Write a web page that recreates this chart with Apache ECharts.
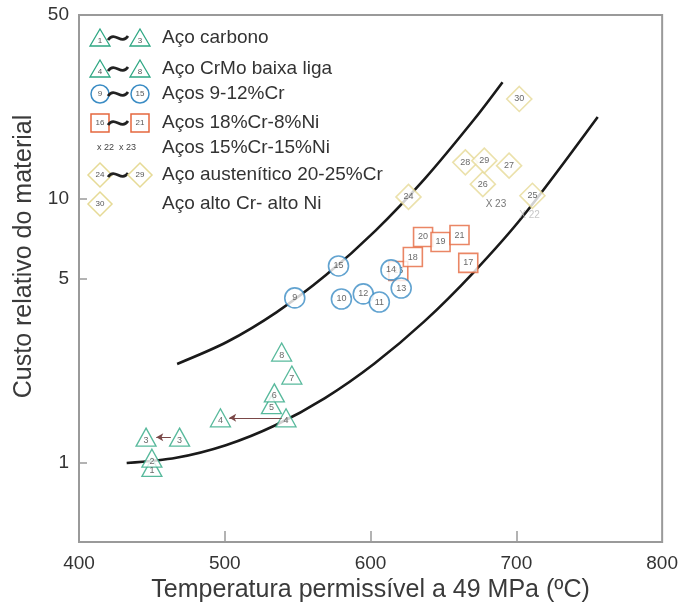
<!DOCTYPE html>
<html>
<head>
<meta charset="utf-8">
<script src="https://cdn.jsdelivr.net/npm/echarts@6/dist/echarts.min.js"></script>
<style>
  html, body { margin: 0; padding: 0; background: #fff; }
  #chartContainer { width: 681px; height: 613px; }
</style>
</head>
<body>
<div id="chartContainer"></div>
<script>
'use strict';

// carbon / CrMo low alloy steels (triangles)
const triLabels = ['1', '2', '3', '3', '4', '4', '5', '6', '7', '8'];
const triTemp = [450, 450, 446, 469, 497, 542, 532, 534, 546, 539];
const triCost = [0.96, 1.04, 1.25, 1.25, 1.48, 1.48, 1.66, 1.84, 2.15, 2.63];

// 9-12%Cr steels (circles)
const circLabels = ['9', '15', '10', '12', '11', '14', '13'];
const circTemp = [548, 578, 580, 595, 606, 614, 621];
const circCost = [4.22, 5.58, 4.18, 4.37, 4.07, 5.39, 4.60];

// 18%Cr-8%Ni steels (squares)
const sqLabels = ['16', '18', '20', '19', '21', '17'];
const sqTemp = [619, 629, 636, 648, 661, 667];
const sqCost = [5.34, 6.03, 7.19, 6.88, 7.31, 5.73];

// 15%Cr-15%Ni steels (crosses)
const crossLabels = ['X 23', 'X 22'];
const crossTemp = [686, 709];
const crossCost = [9.6, 8.7];

// austenitic / high Cr high Ni (diamonds)
const diaLabels = ['24', '25', '26', '27', '28', '29', '30'];
const diaTemp = [626, 711, 677, 695, 665, 678, 702];
const diaCost = [10.2, 10.3, 11.4, 13.4, 13.8, 14.0, 24.0];

// arrows (material 3 and 4 shifted)
const arrowFrom = [[463, 1.25], [539, 1.48]];
const arrowTo = [[453, 1.25], [503, 1.48]];

// band curves
const upperTemp = [467.3, 501.4, 535.4, 569.4, 603.4, 637.4, 671.4, 690.5];
const upperCost = [2.37, 2.87, 3.72, 5.15, 7.60, 12.0, 20.2, 27.8];
const lowerTemp = [432.7, 466.7, 500.7, 534.7, 568.7, 602.7, 636.7, 670.7, 704.8, 755.8];
const lowerCost = [0.997, 1.044, 1.165, 1.387, 1.759, 2.38, 3.43, 5.28, 8.65, 20.5];

// axes
const xTicks = [400, 500, 600, 700, 800];
const yTicks = [1, 5, 10, 50];

const legendTexts = [
    'Aço carbono',
    'Aço CrMo baixa liga',
    'Aços 9-12%Cr',
    'Aços 18%Cr-8%Ni',
    'Aços 15%Cr-15%Ni',
    'Aço austenítico 20-25%Cr',
    'Aço alto Cr- alto Ni'
];

const GREEN = '#2ea783';
const BLUE = '#3b8cc4';
const ORANGE = '#e5683f';
const YELLOW = '#e6da96';
const FONT = 'Liberation Sans, Arial, sans-serif';

let initChart = (function() {
    let chartContainer = document.getElementById('chartContainer');
    let chart = echarts.init(chartContainer);

    function zip(xs, ys) {
        return xs.map((x, i) => [x, ys[i]]);
    }

    function markLabel(labels, offset) {
        return {
            show: true,
            position: 'inside',
            offset: offset || [0, 0],
            formatter: p => labels[p.dataIndex],
            fontSize: 9,
            fontFamily: FONT,
            color: '#444'
        };
    }

    // ---- hand drawn legend ----
    let rowsY = [38, 69, 94, 123, 148, 175, 204];
    let lx1 = 100, lx2 = 140, tx = 118;

    function triangle(x, y, t) {
        return {
            type: 'group', x: x, y: y, children: [
                { type: 'polygon', shape: { points: [[0, -9], [10, 8], [-10, 8]] },
                  style: { fill: '#fff', stroke: GREEN, lineWidth: 1.3 } },
                { type: 'text', style: { text: t, x: 0, y: 3, align: 'center', verticalAlign: 'middle',
                  font: '8px ' + FONT, fill: '#555' } }
            ]
        };
    }
    function circle(x, y, t) {
        return {
            type: 'group', x: x, y: y, children: [
                { type: 'circle', shape: { cx: 0, cy: 0, r: 9 },
                  style: { fill: '#fff', stroke: BLUE, lineWidth: 1.5 } },
                { type: 'text', style: { text: t, x: 0, y: 0, align: 'center', verticalAlign: 'middle',
                  font: '8px ' + FONT, fill: '#555' } }
            ]
        };
    }
    function square(x, y, t) {
        return {
            type: 'group', x: x, y: y, children: [
                { type: 'rect', shape: { x: -9, y: -9, width: 18, height: 18 },
                  style: { fill: '#fff', stroke: ORANGE, lineWidth: 1.5 } },
                { type: 'text', style: { text: t, x: 0, y: 0, align: 'center', verticalAlign: 'middle',
                  font: '8px ' + FONT, fill: '#555' } }
            ]
        };
    }
    function diamond(x, y, t) {
        return {
            type: 'group', x: x, y: y, children: [
                { type: 'polygon', shape: { points: [[0, -12], [12, 0], [0, 12], [-12, 0]] },
                  style: { fill: '#fff', stroke: YELLOW, lineWidth: 1.5 } },
                { type: 'text', style: { text: t, x: 0, y: 0, align: 'center', verticalAlign: 'middle',
                  font: '8px ' + FONT, fill: '#555' } }
            ]
        };
    }
    function tilde(y) {
        return {
            type: 'bezierCurve',
            shape: { x1: tx - 10, y1: y + 2, cpx1: tx - 3, cpy1: y - 8, cpx2: tx + 3, cpy2: y + 8, x2: tx + 10, y2: y - 2 },
            style: { stroke: '#222', lineWidth: 2.8, fill: null }
        };
    }

    let legendEls = [
        triangle(lx1, rowsY[0], '1'), tilde(rowsY[0]), triangle(lx2, rowsY[0], '3'),
        triangle(lx1, rowsY[1], '4'), tilde(rowsY[1]), triangle(lx2, rowsY[1], '8'),
        circle(lx1, rowsY[2], '9'), tilde(rowsY[2]), circle(lx2, rowsY[2], '15'),
        square(lx1, rowsY[3], '16'), tilde(rowsY[3]), square(lx2, rowsY[3], '21'),
        { type: 'text', x: 97, y: rowsY[4], style: { text: 'x 22  x 23', font: '9px ' + FONT,
          fill: '#444', verticalAlign: 'middle' } },
        diamond(lx1, rowsY[5], '24'), tilde(rowsY[5]), diamond(lx2, rowsY[5], '29'),
        diamond(lx1, rowsY[6], '30')
    ];
    legendTexts.forEach((t, i) => {
        legendEls.push({
            type: 'text', x: 162, y: rowsY[i],
            style: { text: t, font: '19px ' + FONT, fill: '#333', verticalAlign: 'middle' }
        });
    });

    let crossData = zip(crossTemp, crossCost).map((d, i) =>
        i === 1 ? { value: d, label: { color: '#b8b8b8' } } : d);

    let option = {
        backgroundColor: '#fff',
        animation: false,
        grid: {
            left: 79,
            right: 14,
            top: 15,
            bottom: 71,
            show: true,
            borderColor: '#9a9a9a',
            borderWidth: 2
        },
        xAxis: {
            type: 'value',
            min: 400,
            max: 800,
            interval: 100,
            name: 'Temperatura permissível a 49 MPa (ºC)',
            nameLocation: 'middle',
            nameGap: 35,
            nameTextStyle: { fontSize: 25, fontFamily: FONT, color: '#3a3a3a' },
            axisLine: { lineStyle: { color: '#9a9a9a', width: 2 } },
            axisTick: {
                inside: true, length: 11,
                customValues: xTicks.slice(1, -1),
                lineStyle: { color: '#9a9a9a', width: 1.5 }
            },
            axisLabel: { fontSize: 19, fontFamily: FONT, color: '#333', margin: 12, customValues: xTicks },
            splitLine: { show: false }
        },
        yAxis: {
            type: 'log',
            logBase: 10,
            min: 0.5,
            max: 50,
            name: 'Custo relativo do material',
            nameLocation: 'middle',
            nameGap: 34,
            nameTextStyle: { fontSize: 25, fontFamily: FONT, color: '#3a3a3a', padding: [0, 0, 0, 44] },
            axisLine: { lineStyle: { color: '#9a9a9a', width: 2 } },
            axisTick: {
                inside: true, length: 8,
                customValues: yTicks,
                lineStyle: { color: '#9a9a9a', width: 1.5 }
            },
            axisLabel: { fontSize: 19, fontFamily: FONT, color: '#333', margin: 10, customValues: yTicks },
            splitLine: { show: false }
        },
        graphic: legendEls,
        series: [
            {
                name: 'upper',
                type: 'line',
                data: zip(upperTemp, upperCost),
                smooth: 0.3,
                showSymbol: false,
                lineStyle: { color: '#1a1a1a', width: 2.6 },
                z: 1
            },
            {
                name: 'lower',
                type: 'line',
                data: zip(lowerTemp, lowerCost),
                smooth: 0.3,
                showSymbol: false,
                lineStyle: { color: '#1a1a1a', width: 2.6 },
                z: 1
            },
            {
                name: 'Aço carbono / CrMo',
                type: 'scatter',
                data: zip(triTemp, triCost),
                symbol: 'triangle',
                symbolSize: [20, 18],
                itemStyle: { color: '#fff', borderColor: GREEN, borderWidth: 1.3 },
                label: markLabel(triLabels, [0, 3]),
                markLine: {
                    silent: true,
                    symbol: ['none', 'arrow'],
                    symbolSize: [6, 7],
                    label: { show: false },
                    lineStyle: { color: '#7a4848', width: 1, type: 'solid' },
                    data: arrowFrom.map((f, i) => [{ coord: f }, { coord: arrowTo[i] }])
                },
                z: 3
            },
            {
                name: 'Aços 18%Cr-8%Ni',
                type: 'scatter',
                data: zip(sqTemp, sqCost),
                symbol: 'rect',
                symbolSize: 19,
                itemStyle: { color: '#fff', borderColor: ORANGE, borderWidth: 1.6 },
                label: markLabel(sqLabels),
                z: 2
            },
            {
                name: 'Aços 9-12%Cr',
                type: 'scatter',
                data: zip(circTemp, circCost),
                symbol: 'circle',
                symbolSize: 20,
                itemStyle: { color: '#fff', borderColor: BLUE, borderWidth: 1.6 },
                label: markLabel(circLabels),
                z: 3
            },
            {
                name: 'Aços 15%Cr-15%Ni',
                type: 'scatter',
                data: crossData,
                symbolSize: 0,
                label: {
                    show: true,
                    position: 'inside',
                    formatter: p => crossLabels[p.dataIndex],
                    fontSize: 10,
                    fontFamily: FONT,
                    color: '#555'
                },
                z: 3
            },
            {
                name: 'Aço austenítico',
                type: 'scatter',
                data: zip(diaTemp, diaCost),
                symbol: 'diamond',
                symbolSize: 25,
                itemStyle: { color: '#fff', borderColor: YELLOW, borderWidth: 1.6 },
                label: markLabel(diaLabels),
                z: 3
            }
        ]
    };

    chart.setOption(option);
})();
</script>
</body>
</html>
